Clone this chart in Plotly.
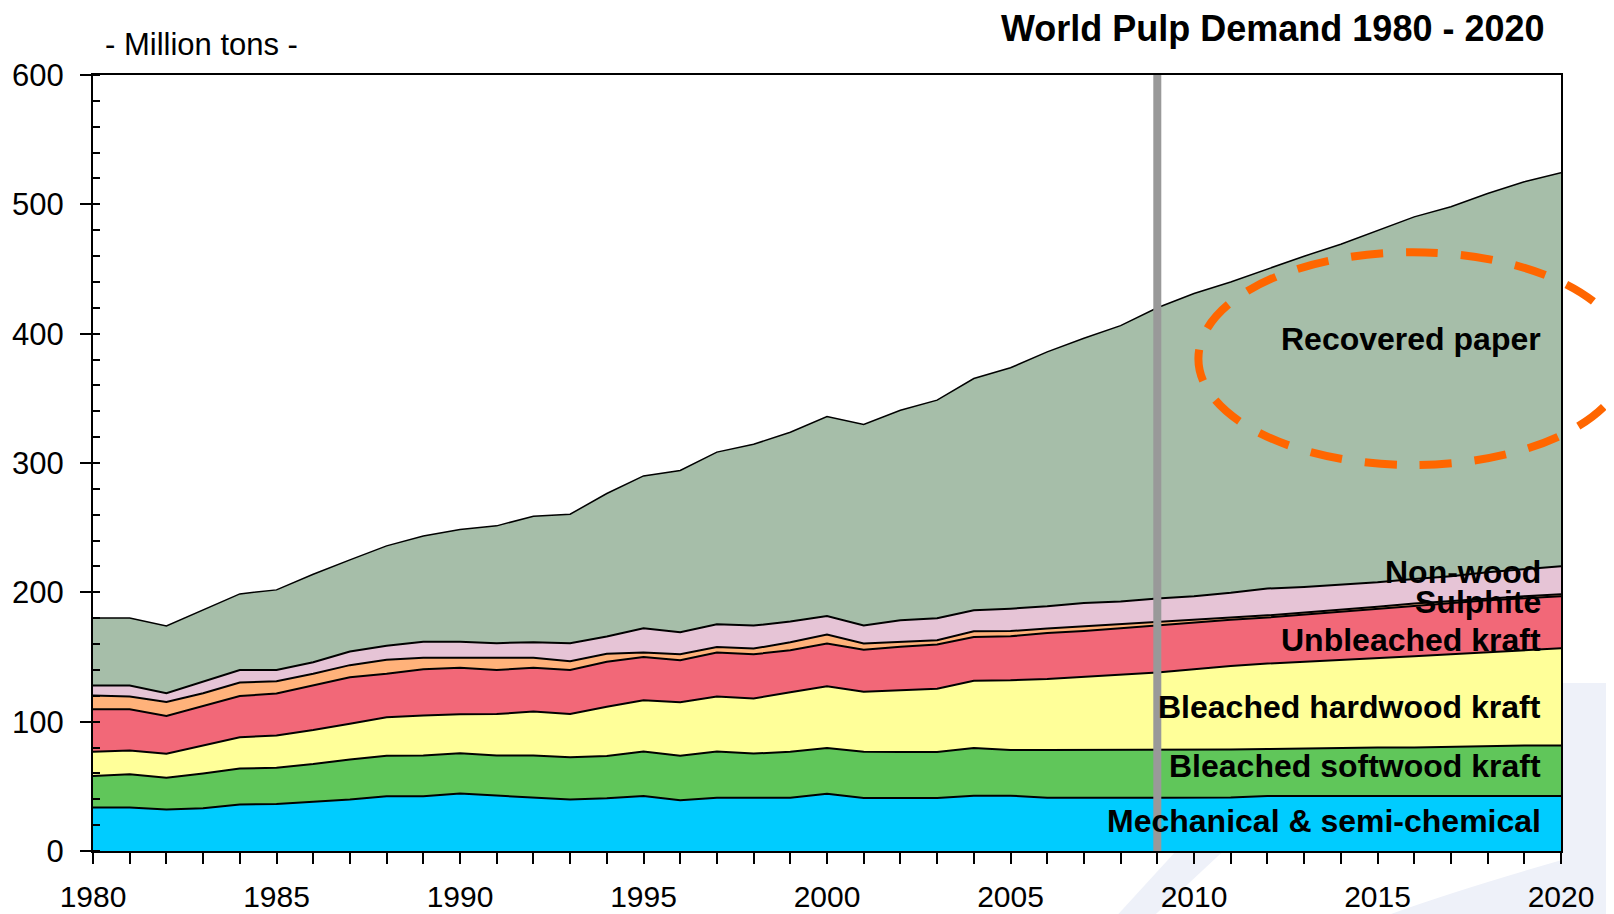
import plotly.graph_objects as go

years = list(range(1980, 2021))

mechanical = [33.6, 33.6, 32.0, 33.0, 36.0, 36.4, 38.0, 39.8, 42.4, 42.4,
              44.4, 42.9, 41.3, 39.8, 40.8, 42.5, 39.2, 41.2, 41.2, 41.2,
              44.3, 41.0, 41.0, 41.0, 42.8, 42.8, 41.2, 41.0, 41.2, 41.2,
              41.3, 41.3, 42.6, 42.6, 42.6, 42.6, 42.6, 42.6, 42.6, 42.6, 42.6]
softwood = [24.3, 25.8, 24.6, 26.9, 27.8, 27.9, 29.2, 31.0, 31.2, 31.5,
            31.1, 31.0, 32.6, 32.6, 32.6, 34.5, 34.5, 35.8, 34.1, 35.6,
            35.4, 35.8, 35.6, 35.6, 36.9, 35.3, 36.9, 37.1, 37.1, 37.2,
            37.1, 37.1, 36.3, 36.8, 37.1, 37.4, 37.4, 37.9, 38.9, 38.9, 38.9]
hardwood = [18.8, 18.4, 18.6, 21.8, 24.1, 25.1, 26.3, 27.6, 29.8, 30.8,
            30.2, 32.0, 33.9, 33.5, 38.2, 39.5, 41.3, 42.4, 42.7, 45.9,
            47.7, 46.4, 47.7, 48.9, 52.0, 53.9, 54.9, 56.5, 57.9, 59.6,
            62.1, 64.7, 66.0, 66.8, 67.8, 69.0, 70.6, 71.6, 72.2, 73.8, 75.3]
unbleached = [32.9, 31.8, 29.2, 30.4, 32.0, 32.3, 34.7, 36.0, 33.6, 35.9,
              35.9, 34.1, 33.8, 34.1, 34.7, 33.5, 32.5, 34.0, 34.1, 32.5,
              33.0, 32.5, 33.7, 34.1, 33.8, 34.0, 35.6, 35.5, 36.0, 36.5,
              36.3, 35.7, 35.6, 36.6, 37.3, 38.2, 39.2, 39.7, 40.2, 40.1, 40.2]
sulphite = [10.6, 9.8, 10.8, 9.9, 10.3, 9.6, 8.8, 9.3, 10.8, 8.8,
            7.8, 9.4, 7.8, 6.8, 6.2, 3.4, 4.6, 4.4, 4.4, 6.2,
            6.9, 4.7, 3.9, 3.4, 4.4, 4.1, 3.4, 3.7, 3.0, 2.8,
            2.2, 1.8, 1.7, 1.6, 1.6, 1.6, 1.6, 1.6, 1.6, 1.6, 1.6]
nonwood = [7.7, 8.5, 6.8, 8.7, 9.8, 8.7, 9.0, 10.6, 10.9, 12.4,
           12.4, 11.3, 12.1, 13.9, 13.4, 18.8, 17.0, 17.5, 17.8, 16.0,
           14.4, 13.9, 16.5, 17.0, 16.2, 17.3, 17.2, 18.0, 17.7, 17.9,
           18.0, 19.0, 20.7, 19.8, 19.6, 19.0, 19.0, 19.1, 20.0, 21.1, 21.6]
recovered = [52.3, 52.3, 52.0, 56.0, 58.8, 61.9, 68.0, 70.8, 77.2, 81.8,
             86.8, 90.7, 97.4, 99.7, 110.5, 117.8, 125.1, 133.1, 140.2, 146.4,
             154.3, 155.5, 162.4, 168.6, 179.2, 186.2, 196.7, 204.7, 213.3, 224.8,
             234.1, 240.4, 247.2, 255.7, 263.2, 272.2, 279.9, 285.6, 292.9, 299.3, 304.2]

series_names = ["Mechanical & semi-chemical", "Bleached softwood kraft",
                "Bleached hardwood kraft", "Unbleached kraft", "Sulphite",
                "Non-wood", "Recovered paper"]
series_values = [mechanical, softwood, hardwood, unbleached, sulphite, nonwood, recovered]
series_colors = ["#00CCFF", "#60C65A", "#FFFF99", "#F26878", "#FFB27A", "#E6C4D6", "#A6BEA9"]

# label positions (data units)
label_y = [23.4, 65.9, 111.0, 163.1, 192.8, 215.5, 395.9]
label_x = 2019.5
forecast_year = 2009

FONT = "Liberation Sans, Arial, sans-serif"

fig = go.Figure()
for i, (name, vals, col) in enumerate(zip(series_names, series_values, series_colors)):
    fig.add_trace(go.Scatter(
        x=years, y=vals, name=name, mode="lines", stackgroup="one",
        fillcolor=col,
        line=dict(color="black", width=1.5 if i == len(series_names) - 1 else 2),
        showlegend=False, hoverinfo="x+y+name",
    ))

for name, ly in zip(series_names, label_y):
    fig.add_annotation(x=label_x, y=ly, xref="x", yref="y", text="<b>%s</b>" % name,
                       showarrow=False, xanchor="right", yanchor="middle",
                       font=dict(family=FONT, size=32, color="black"))

shapes = [
    # pale background decoration
    dict(type="path", xref="paper", yref="paper", layer="below",
         path="M 1.0,0.2165 L 1.0362,0.2165 L 1.0362,-0.0812 L 0.8842,-0.0812 Q 0.93,-0.05 1.0,-0.012 Z",
         fillcolor="#EEF1F9", line=dict(width=0)),
    dict(type="path", xref="paper", yref="paper", layer="below",
         path="M 0.6985,-0.0812 L 0.7378,0 L 0.7700,0 L 0.7240,-0.0812 Z",
         fillcolor="#EEF1F9", line=dict(width=0)),
    # forecast divider
    dict(type="line", xref="x", yref="y", x0=forecast_year, x1=forecast_year, y0=0, y1=600,
         line=dict(color="#999999", width=8), layer="above"),
    # dashed ellipse
    dict(type="circle", xref="paper", yref="paper", x0=0.7530, x1=1.0450, y0=0.4974, y1=0.7715,
         line=dict(color="#FF6600", width=8, dash="32px,23px"), layer="above"),
]
fig.update_layout(shapes=shapes)

fig.add_annotation(x=0.9904, y=1.0593, xref="paper", yref="paper",
                   text="<b>World Pulp Demand 1980 - 2020</b>", showarrow=False,
                   xanchor="right", yanchor="middle",
                   font=dict(family=FONT, size=36, color="black"))
fig.add_annotation(x=0.0069, y=1.0387, xref="paper", yref="paper",
                   text="- Million tons -", showarrow=False,
                   xanchor="left", yanchor="middle",
                   font=dict(family=FONT, size=31, color="black"))

fig.update_layout(
    width=1606, height=906,
    margin=dict(l=85, r=53, t=67, b=63, pad=0, autoexpand=False),
    paper_bgcolor="white", plot_bgcolor="rgba(0,0,0,0)",
    font=dict(family=FONT, size=31, color="black"),
    xaxis=dict(range=[1980, 2020], tick0=1980, dtick=5, ticks="outside", ticklen=11,
               tickwidth=2, tickcolor="black", showgrid=False, zeroline=False,
               showline=True, linecolor="black", linewidth=2, mirror=True,
               automargin=False,
               tickfont=dict(family=FONT, size=30), ticklabelstandoff=7,
               minor=dict(dtick=1, tick0=1980, ticks="outside", ticklen=11,
                          tickwidth=2, tickcolor="black", showgrid=False)),
    yaxis=dict(range=[0, 600], tick0=0, dtick=100, ticks="outside", ticklen=11,
               tickwidth=2, tickcolor="black", showgrid=False, zeroline=False,
               showline=True, linecolor="black", linewidth=2, mirror=True,
               automargin=False,
               tickfont=dict(family=FONT, size=31), ticklabelstandoff=10,
               minor=dict(dtick=20, tick0=0, ticks="inside", ticklen=7,
                          tickwidth=2, tickcolor="black", showgrid=False)),
)

fig.write_html("out.html")
